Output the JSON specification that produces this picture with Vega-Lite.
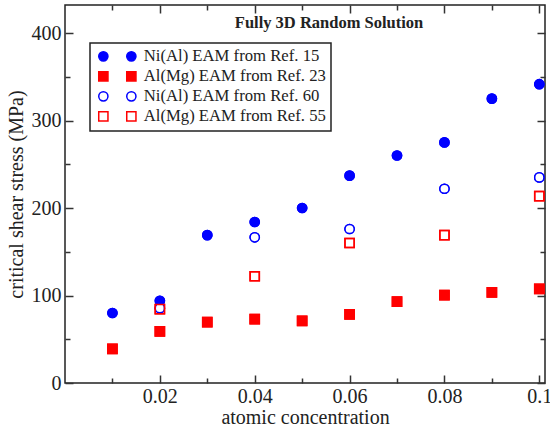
{
  "$schema": "https://vega.github.io/schema/vega-lite/v6.json",
  "width": 480,
  "height": 378,
  "autosize": {"type": "none"},
  "padding": {"left": 65, "top": 5, "right": 5, "bottom": 50},
  "background": "white",
  "config": {
    "font": "Liberation Serif",
    "view": {"stroke": "#222", "strokeWidth": 1.5},
    "axis": {
      "domain": false,
      "grid": false,
      "tickWidth": 1.5,
      "tickColor": "#333",
      "labelFont": "Liberation Serif",
      "labelFontSize": 20,
      "labelColor": "#222",
      "titleFont": "Liberation Serif",
      "titleFontSize": 20,
      "titleFontWeight": "normal",
      "titleColor": "#222"
    },
    "legend": {
      "orient": "none",
      "legendY": 38,
      "strokeWidth": 1.5,
      "padding": 5,
      "labelFont": "Liberation Serif",
      "labelFontSize": 16.7,
      "labelLimit": 400,
      "labelColor": "#222",
      "labelOffset": 32,
      "symbolSize": 85,
      "symbolStrokeWidth": 1.5,
      "rowPadding": 2,
      "title": null
    }
  },
  "title": {
    "text": "Fully 3D Random Solution",
    "font": "Liberation Serif",
    "fontSize": 16.5,
    "fontWeight": "bold",
    "color": "#222",
    "frame": "group",
    "anchor": "middle",
    "offset": 0,
    "dx": 24,
    "dy": 27
  },
  "data": {
    "values": [
      {"x": 0.01, "y": 80, "series": "Ni(Al) EAM from Ref. 15"},
      {"x": 0.02, "y": 94, "series": "Ni(Al) EAM from Ref. 15"},
      {"x": 0.03, "y": 169, "series": "Ni(Al) EAM from Ref. 15"},
      {"x": 0.04, "y": 184, "series": "Ni(Al) EAM from Ref. 15"},
      {"x": 0.05, "y": 200, "series": "Ni(Al) EAM from Ref. 15"},
      {"x": 0.06, "y": 237, "series": "Ni(Al) EAM from Ref. 15"},
      {"x": 0.07, "y": 260, "series": "Ni(Al) EAM from Ref. 15"},
      {"x": 0.08, "y": 275, "series": "Ni(Al) EAM from Ref. 15"},
      {"x": 0.09, "y": 325, "series": "Ni(Al) EAM from Ref. 15"},
      {"x": 0.1, "y": 341.5, "series": "Ni(Al) EAM from Ref. 15"},
      {"x": 0.01, "y": 39, "series": "Al(Mg) EAM from Ref. 23"},
      {"x": 0.02, "y": 59, "series": "Al(Mg) EAM from Ref. 23"},
      {"x": 0.03, "y": 69.5, "series": "Al(Mg) EAM from Ref. 23"},
      {"x": 0.04, "y": 73, "series": "Al(Mg) EAM from Ref. 23"},
      {"x": 0.05, "y": 71, "series": "Al(Mg) EAM from Ref. 23"},
      {"x": 0.06, "y": 78.5, "series": "Al(Mg) EAM from Ref. 23"},
      {"x": 0.07, "y": 93, "series": "Al(Mg) EAM from Ref. 23"},
      {"x": 0.08, "y": 100.5, "series": "Al(Mg) EAM from Ref. 23"},
      {"x": 0.09, "y": 103.5, "series": "Al(Mg) EAM from Ref. 23"},
      {"x": 0.1, "y": 107.5, "series": "Al(Mg) EAM from Ref. 23"},
      {"x": 0.02, "y": 85.5, "series": "Ni(Al) EAM from Ref. 60"},
      {"x": 0.04, "y": 166.5, "series": "Ni(Al) EAM from Ref. 60"},
      {"x": 0.06, "y": 176, "series": "Ni(Al) EAM from Ref. 60"},
      {"x": 0.08, "y": 222, "series": "Ni(Al) EAM from Ref. 60"},
      {"x": 0.1, "y": 235, "series": "Ni(Al) EAM from Ref. 60"},
      {"x": 0.02, "y": 84.5, "series": "Al(Mg) EAM from Ref. 55"},
      {"x": 0.04, "y": 122, "series": "Al(Mg) EAM from Ref. 55"},
      {"x": 0.06, "y": 160, "series": "Al(Mg) EAM from Ref. 55"},
      {"x": 0.08, "y": 169, "series": "Al(Mg) EAM from Ref. 55"},
      {"x": 0.1, "y": 213.5, "series": "Al(Mg) EAM from Ref. 55"}
    ]
  },
  "layer": [
    {
      "mark": {"type": "point", "filled": true, "size": 85, "strokeWidth": 1.5, "opacity": 1},
      "encoding": {
        "x": {
          "field": "x", "type": "quantitative",
          "scale": {"domain": [0, 0.1012], "nice": false, "zero": false},
          "axis": {
            "orient": "bottom",
            "values": [0.01, 0.02, 0.03, 0.04, 0.05, 0.06, 0.07, 0.08, 0.09, 0.1],
            "tickSize": {"condition": {"test": "round(datum.value*100) % 2 == 0", "value": -8}, "value": -5},
            "labelExpr": "round(datum.value*100) % 2 == 0 ? format(datum.value, '~g') : ''",
            "labelPadding": 11,
            "title": "atomic concentration",
            "titlePadding": 1
          }
        },
        "y": {
          "field": "y", "type": "quantitative",
          "scale": {"domain": [0, 432], "nice": false},
          "axis": {
            "orient": "left",
            "values": [0, 50, 100, 150, 200, 250, 300, 350, 400],
            "tickSize": {"condition": {"test": "datum.value % 100 == 0", "value": -8}, "value": -5},
            "labelExpr": "datum.value % 100 == 0 ? datum.label : ''",
            "labelPadding": 12,
            "title": "critical shear stress (MPa)",
            "titlePadding": 5
          }
        },
        "shape": {
          "field": "series", "type": "nominal",
          "scale": {
            "domain": ["Ni(Al) EAM from Ref. 15", "Al(Mg) EAM from Ref. 23", "Ni(Al) EAM from Ref. 60", "Al(Mg) EAM from Ref. 55"],
            "range": ["circle", "square", "circle", "square"]
          },
          "legend": {"legendX": 25, "strokeColor": "#222"}
        },
        "fill": {
          "field": "series", "type": "nominal",
          "scale": {
            "domain": ["Ni(Al) EAM from Ref. 15", "Al(Mg) EAM from Ref. 23", "Ni(Al) EAM from Ref. 60", "Al(Mg) EAM from Ref. 55"],
            "range": ["#0000ff", "#ff0000", "white", "transparent"]
          },
          "legend": {"legendX": 25, "strokeColor": "#222"}
        },
        "stroke": {
          "field": "series", "type": "nominal",
          "scale": {
            "domain": ["Ni(Al) EAM from Ref. 15", "Al(Mg) EAM from Ref. 23", "Ni(Al) EAM from Ref. 60", "Al(Mg) EAM from Ref. 55"],
            "range": ["#0000ff", "#ff0000", "#0000ff", "#ff0000"]
          },
          "legend": {"legendX": 25, "strokeColor": "#222"}
        }
      }
    },
    {
      "mark": {"type": "point", "filled": true, "size": 85, "strokeWidth": 1.5, "opacity": 1},
      "encoding": {
        "x": {
          "field": "x", "type": "quantitative",
          "axis": {
            "orient": "top",
            "values": [0.01, 0.02, 0.03, 0.04, 0.05, 0.06, 0.07, 0.08, 0.09, 0.1],
            "tickSize": {"condition": {"test": "round(datum.value*100) % 2 == 0", "value": -8}, "value": -5},
            "labels": false,
            "title": null
          }
        },
        "y": {
          "field": "y", "type": "quantitative",
          "axis": {
            "orient": "right",
            "values": [0, 50, 100, 150, 200, 250, 300, 350, 400],
            "tickSize": {"condition": {"test": "datum.value % 100 == 0", "value": -8}, "value": -5},
            "labels": false,
            "title": null
          }
        },
        "shape": {
          "field": "series", "type": "nominal",
          "legend": {"legendX": 53, "strokeColor": "transparent", "labelExpr": "''"}
        },
        "fill": {
          "field": "series", "type": "nominal",
          "legend": {"legendX": 53, "strokeColor": "transparent", "labelExpr": "''"}
        },
        "stroke": {
          "field": "series", "type": "nominal",
          "legend": {"legendX": 53, "strokeColor": "transparent", "labelExpr": "''"}
        }
      }
    }
  ],
  "resolve": {
    "axis": {"x": "independent", "y": "independent"},
    "legend": {"shape": "independent", "fill": "independent", "stroke": "independent"}
  }
}
